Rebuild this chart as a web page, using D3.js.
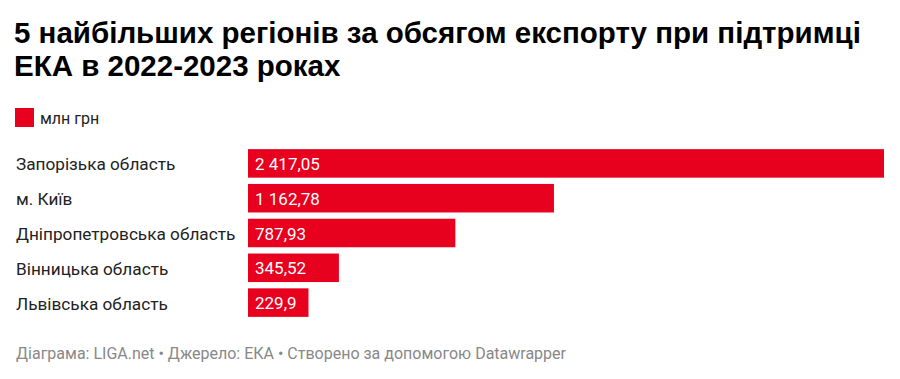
<!DOCTYPE html>
<html><head><meta charset="utf-8">
<script src="https://cdn.jsdelivr.net/npm/d3@7"></script>
<style>
body{margin:0;background:#fff;}
svg{display:block;}
</style></head>
<body>
<svg id="c" width="900" height="379"></svg>
<script>
const categories = ["Запорізька область","м. Київ","Дніпропетровська область","Вінницька область","Львівська область"];
const values = [2417.05, 1162.78, 787.93, 345.52, 229.9];
const valueLabels = ["2 417,05","1 162,78","787,93","345,52","229,9"];
const titleLines = ["5 найбільших регіонів за обсягом експорту при підтримці","ЕКА в 2022-2023 роках"];
const legendLabel = "млн грн";
const footer = "Діаграма: LIGA.net • Джерело: ЕКА • Створено за допомогою Datawrapper";

const svg = d3.select("#c");
const red = "#e8001f";

svg.selectAll("text.title").data(titleLines).join("text")
  .attr("class","title")
  .attr("x",14).attr("y",(d,i)=>43+i*33)
  .attr("font-family","Liberation Sans, Arial, Helvetica, sans-serif")
  .attr("font-weight","bold").attr("font-size",29.5)
  .attr("fill","#000").text(d=>d);

svg.append("rect").attr("x",15).attr("y",108).attr("width",19).attr("height",19).attr("fill",red);
svg.append("text").attr("x",40).attr("y",124).attr("font-family","Roboto, sans-serif")
  .attr("font-size",16).attr("fill","#222").text(legendLabel);

const x = d3.scaleLinear().domain([0, d3.max(values)]).range([248, 884]);
const y = d3.scaleBand().domain(categories).range([146, 146+34.8*5]).paddingInner(0.18).paddingOuter(0.09);

const g = svg.append("g");
g.selectAll("rect.bar").data(categories).join("rect")
  .attr("class","bar")
  .attr("x",x(0)).attr("y",d=>y(d))
  .attr("width",(d,i)=>x(values[i])-x(0)).attr("height",y.bandwidth())
  .attr("fill",red);

g.selectAll("text.lab").data(categories).join("text")
  .attr("class","lab")
  .attr("x",16).attr("y",d=>y(d)+y.bandwidth()/2+7)
  .attr("font-family","Roboto, sans-serif").attr("font-size",17.2).attr("fill","#222")
  .text(d=>d);

g.selectAll("text.val").data(categories).join("text")
  .attr("class","val")
  .attr("x",x(0)+7).attr("y",d=>y(d)+y.bandwidth()/2+6.5)
  .attr("font-family","Roboto, sans-serif").attr("font-size",17).attr("fill","#fff")
  .text((d,i)=>valueLabels[i]);

svg.append("text").attr("x",16).attr("y",359)
  .attr("font-family","Roboto, sans-serif").attr("font-size",16)
  .attr("fill","#888").text(footer);
</script>
</body></html>
